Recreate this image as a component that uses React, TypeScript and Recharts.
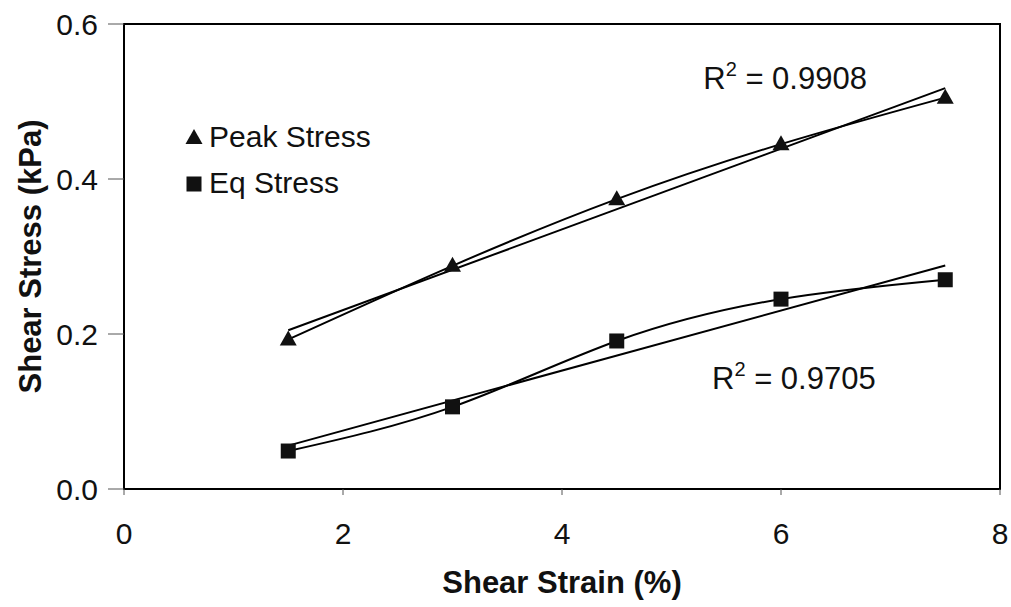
import { ComposedChart, Line, Scatter, XAxis, YAxis, ReferenceArea, ReferenceDot, Legend } from 'recharts'

// shear strain (%) for each test step
const strain = [1.5, 3, 4.5, 6, 7.5]
// shear stress (kPa)
const peakStress = [0.193, 0.288, 0.374, 0.445, 0.505]
const eqStress = [0.049, 0.106, 0.191, 0.245, 0.27]

const xTicks = [0, 2, 4, 6, 8]
const yTicks = [0, 0.2, 0.4, 0.6]

const peakR2 = '0.9908'
const eqR2 = '0.9705'

const peakData = strain.map((x, i) => ({ strain: x, stress: peakStress[i] }))
const eqData = strain.map((x, i) => ({ strain: x, stress: eqStress[i] }))

const FONT = '"Liberation Sans", Arial, sans-serif'
const INK = '#111'

function Triangle(props: { cx?: number; cy?: number }) {
  const { cx = 0, cy = 0 } = props
  return <polygon points={`${cx},${cy - 9} ${cx - 8.5},${cy + 6} ${cx + 8.5},${cy + 6}`} fill={INK} />
}

function Square(props: { cx?: number; cy?: number }) {
  const { cx = 0, cy = 0 } = props
  return <rect x={cx - 7.5} y={cy - 7.5} width={15} height={15} fill={INK} />
}

function r2Text(value: string) {
  return (props: { cx?: number; cy?: number }) => (
    <text x={props.cx} y={props.cy} fontSize={31} fontFamily={FONT} fill={INK}>
      <tspan>R</tspan>
      <tspan dy={-13} fontSize={20}>2</tspan>
      <tspan dy={13}> = {value}</tspan>
    </text>
  )
}

function StressLegend() {
  const rows = [
    { name: 'Peak Stress', Marker: Triangle },
    { name: 'Eq Stress', Marker: Square },
  ]
  return (
    <div style={{ fontFamily: FONT, fontSize: 30, color: INK }}>
      {rows.map(({ name, Marker }) => (
        <div key={name} style={{ display: 'flex', alignItems: 'center', height: 46 }}>
          <svg width={20} height={20} style={{ marginRight: 5 }}>
            <Marker cx={10} cy={11} />
          </svg>
          <span>{name}</span>
        </div>
      ))}
    </div>
  )
}

export default function App() {
  return (
    <div style={{ position: 'absolute', left: 0, top: 0, background: '#fff' }}>
      <ComposedChart width={1011} height={607} margin={{ top: 24, right: 11, bottom: 0, left: 0 }}>
        <XAxis
          dataKey="strain"
          type="number"
          domain={[0, 8]}
          ticks={xTicks}
          tickSize={6}
          tickMargin={28}
          axisLine={{ stroke: '#000', strokeWidth: 2 }}
          tickLine={{ stroke: '#555' }}
          tick={{ fill: INK, fontSize: 30, fontFamily: FONT }}
          height={118}
          label={{
            value: 'Shear Strain (%)',
            position: 'insideBottom',
            offset: 14,
            style: { fontSize: 31, fontWeight: 'bold', fontFamily: FONT, fill: INK },
          }}
        />
        <YAxis
          type="number"
          domain={[0, 0.6]}
          ticks={yTicks}
          tickFormatter={(v: number) => v.toFixed(1)}
          tickSize={16}
          tickMargin={10}
          width={124}
          axisLine={{ stroke: '#000', strokeWidth: 2 }}
          tickLine={{ stroke: '#555' }}
          tick={{ fill: INK, fontSize: 30, fontFamily: FONT }}
          label={{
            value: 'Shear Stress (kPa)',
            angle: -90,
            position: 'insideLeft',
            offset: 30,
            style: { textAnchor: 'middle', fontSize: 31, fontWeight: 'bold', fontFamily: FONT, fill: INK },
          }}
        />
        <ReferenceArea x1={0} x2={8} y1={0} y2={0.6} fill="none" stroke="#000" strokeWidth={2} ifOverflow="visible" />

        <Line data={peakData} dataKey="stress" type="natural" stroke="#000" strokeWidth={2} dot={false} isAnimationActive={false} legendType="none" />
        <Line data={eqData} dataKey="stress" type="natural" stroke="#000" strokeWidth={2} dot={false} isAnimationActive={false} legendType="none" />

        <Scatter
          name="Peak Stress"
          data={peakData}
          dataKey="stress"
          shape={<Triangle />}
          line={{ stroke: '#000', strokeWidth: 2 }}
          lineType="fitting"
          isAnimationActive={false}
        />
        <Scatter
          name="Eq Stress"
          data={eqData}
          dataKey="stress"
          shape={<Square />}
          line={{ stroke: '#000', strokeWidth: 2 }}
          lineType="fitting"
          isAnimationActive={false}
        />

        <ReferenceDot x={5.29} y={0.516} r={0} shape={r2Text(peakR2)} />
        <ReferenceDot x={5.37} y={0.129} r={0} shape={r2Text(eqR2)} />

        <Legend
          layout="vertical"
          align="center"
          verticalAlign="middle"
          content={<StressLegend />}
          wrapperStyle={{ left: 184, top: 114, width: 240 }}
        />
      </ComposedChart>
    </div>
  )
}
